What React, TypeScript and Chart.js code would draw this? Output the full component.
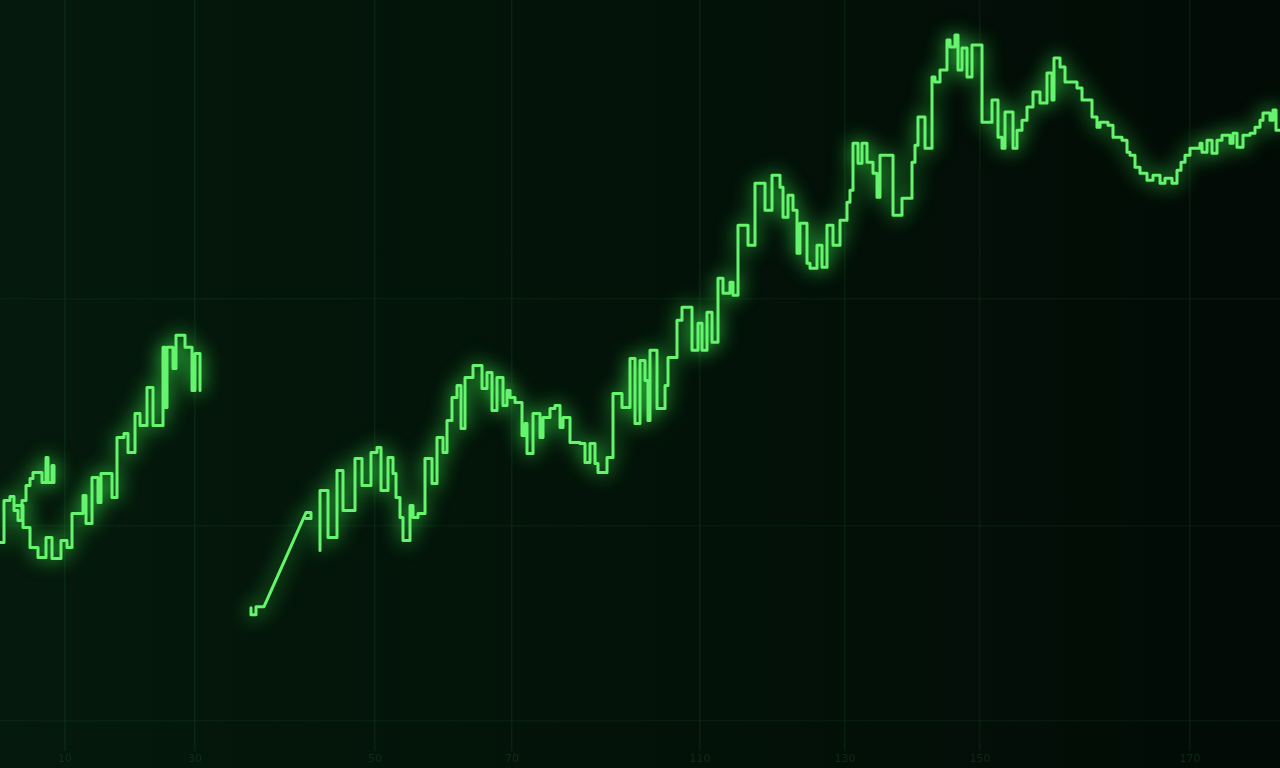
import React, { useEffect, useRef } from "react";
import { Chart, registerables } from "chart.js";

Chart.register(...registerables);

// Segment 1: short upper-left stepped trace
const seg1X = [0, 0.8, 2, 2.8, 3.6, 4.4, 5.2, 6, 6.6, 8.4, 9.2, 9.6, 10.4, 10.8];
const seg1Y = [41.6, 50, 50.8, 48, 46, 50, 53, 54.4, 55.6, 53.6, 58.6, 53.6, 57, 53.6];

// Segment 2: lower-left stepped trace rising to the first break
const seg2X = [3.2, 4.6, 6, 7.6, 9.2, 10.4, 12.2, 13.4, 14.4, 16.6, 17.2, 18.4, 19.6, 20.2, 22.4, 23.4, 24.8, 25.6, 27, 28, 29.4, 30.6, 32.6, 33, 33.4, 34.6, 35.2, 37, 38.4, 39, 40];
const seg2Y = [49, 44.6, 40.6, 38.6, 42.6, 38.4, 42, 40.6, 47.4, 51, 45.4, 54.6, 49.6, 55.4, 50.6, 62.6, 63.4, 59.6, 67.4, 65, 72.6, 65, 80.6, 68.6, 80.6, 76.4, 83, 80.6, 72, 79.4, 72];

// Segment 3: straight connecting piece after the gap
const seg3X = [50.2, 50.2, 51.2, 51.2, 52.8, 61.2, 62.2, 62.2, 61.2];
const seg3Y = [28.6, 27.2, 27.2, 28.8, 28.8, 47.6, 47.6, 46.4, 46.4];

// Segment 4: main stepped trace
const seg4X = [64, 64, 65.6, 67.4, 68.6, 71, 72.4, 74.2, 75.4, 76.2, 77.6, 78.6, 79.2, 80, 80.6, 82, 82.6, 83.6, 85, 86.4, 87.4, 88.6, 89.4, 90.4, 91.4, 92.2, 93, 94.6, 96.4, 97.4, 98.4, 99.4, 100.6, 101.4, 102, 103, 104.4, 105, 105.4, 106.6, 108, 108.6, 110, 111, 112, 112.6, 114, 116, 117, 118, 119, 119.6, 121.4, 122.6, 124.4, 126, 127, 128, 129, 129.6, 130, 131.4, 133, 133.6, 135.4, 136.4, 138.4, 139.6, 140.4, 141.4, 142.4, 143.6, 144.6, 146, 146.6, 147.6, 149.6, 151, 153, 154.4, 156, 156.6, 157.6, 158.6, 159.4, 160, 161.4, 162, 163.4, 164.4, 165.4, 166.6, 168, 169.4, 170, 170.6, 171.6, 172.4, 173.4, 174.6, 175.4, 176, 178.6, 180.4, 182.4, 183, 183.6, 185, 186.4, 187, 188, 189.4, 190, 191, 191.6, 192.4, 193.4, 194.4, 196.4, 198.4, 199.6, 200.4, 201, 202.6, 203.4, 204.4, 205.4, 206.6, 208, 209.4, 210.4, 210.8, 212, 213, 215.4, 216.4, 218.4, 219.4, 220, 221.6, 222.6, 224.4, 225.4, 226, 227, 228, 229.4, 230.6, 232, 233, 234.4, 235.4, 236.2, 237, 238, 240, 240.4, 241.4, 242.4, 243.4, 244.4, 246, 246.6, 247.4, 248.6, 250, 251, 252, 252.6, 254, 254.6, 255.2, 256];
const seg4Y = [40, 52, 42.6, 56, 48, 58.4, 53, 59.6, 60.6, 52, 58.6, 55.4, 50.6, 46.6, 42, 49, 46.6, 47.4, 58.4, 53.4, 62.6, 59.6, 66, 70.6, 73, 64.4, 74.6, 77, 72.4, 75.6, 68, 74.6, 69, 72, 70.6, 69.6, 63, 65.4, 59.4, 67.4, 62.6, 66.6, 68.4, 69, 64.6, 66.6, 61.6, 61.4, 57.6, 61.4, 57.4, 55.6, 58.6, 71.4, 68.6, 78.4, 65.4, 78, 74, 66, 80, 68.4, 73, 78.6, 86, 88.6, 80, 85.4, 80, 87.6, 81.6, 94.4, 91.4, 93.6, 91, 105, 101, 113.4, 108, 115, 112.6, 106.6, 111, 108, 99.4, 105.4, 97.4, 96.4, 101, 96.6, 105, 101, 106, 109.6, 112, 121.4, 117.4, 121.4, 117.6, 115.4, 110.6, 119, 107, 110.4, 117.6, 121, 126.6, 120.4, 134.6, 133.6, 136, 142, 140.6, 143, 136, 140.4, 134.6, 141, 125.6, 130, 122.6, 120.4, 127.6, 120.4, 124, 126, 128.6, 131.6, 129.4, 135.4, 130, 138.4, 136.6, 133.6, 132.4, 130, 126.6, 124.6, 125.6, 125, 122.6, 122, 119.6, 119, 116.6, 115.4, 114, 115, 113.4, 114.4, 113.4, 116, 117.6, 119, 120.4, 121.4, 119.6, 122, 119.4, 122, 123, 121.4, 123.4, 120.6, 123, 123.4, 124.6, 126, 127.4, 126, 128, 124, 124];

// Axis ticks (faint background grid and labels)
const xTickValues = [13, 39, 75, 102.4, 140, 169, 196, 238];
const xTickLabels = ["10", "30", "50", "70", "110", "130", "150", "170"];
const yTickValues = [6, 45, 90.4];

const toPoints = (xs: number[], ys: number[]) => xs.map((x, i) => ({ x, y: ys[i] }));

const glowPlugin = {
  id: "glow",
  beforeDatasetDraw(chart: any) {
    const ctx = chart.ctx;
    ctx.save();
    ctx.shadowColor = "rgba(60, 255, 80, 1)";
    ctx.shadowBlur = 20;
  },
  afterDatasetDraw(chart: any) {
    chart.ctx.restore();
  },
};

export default function App() {
  const canvasRef = useRef<HTMLCanvasElement | null>(null);

  useEffect(() => {
    const canvas = canvasRef.current;
    if (!canvas) return;
    const lineStyle = {
      borderColor: "#66f46f",
      borderWidth: 3,
      pointRadius: 0,
      borderJoinStyle: "round" as const,
      borderCapStyle: "round" as const,
      fill: false,
      tension: 0,
    };
    const chart = new Chart(canvas, {
      type: "line",
      data: {
        datasets: [
          { ...lineStyle, data: toPoints(seg1X, seg1Y), stepped: true },
          { ...lineStyle, data: toPoints(seg2X, seg2Y), stepped: true },
          { ...lineStyle, data: toPoints(seg3X, seg3Y), stepped: false },
          { ...lineStyle, data: toPoints(seg4X, seg4Y), stepped: true },
        ],
      },
      options: {
        animation: false,
        responsive: false,
        layout: { padding: 0 },
        plugins: { legend: { display: false }, tooltip: { enabled: false } },
        scales: {
          x: {
            type: "linear",
            min: 0,
            max: 256,
            border: { display: false },
            grid: { color: "rgba(40, 110, 60, 0.16)", lineWidth: 1.5, drawTicks: false },
            afterBuildTicks: (axis: any) => {
              axis.ticks = xTickValues.map((v) => ({ value: v }));
            },
            ticks: {
              color: "rgba(35, 80, 45, 0.4)",
              padding: 2,
              font: { family: "DejaVu Sans", size: 11 },
              callback: (value: any) => {
                const i = xTickValues.indexOf(Number(value));
                return i >= 0 ? xTickLabels[i] : "";
              },
            },
          },
          y: {
            type: "linear",
            min: 0,
            max: 150,
            border: { display: false },
            grid: { color: "rgba(40, 110, 60, 0.13)", lineWidth: 1.5, drawTicks: false },
            afterBuildTicks: (axis: any) => {
              axis.ticks = yTickValues.map((v) => ({ value: v }));
            },
            ticks: { display: false },
          },
        },
      },
      plugins: [glowPlugin],
    });
    return () => chart.destroy();
  }, []);

  return (
    <div
      style={{
        position: "fixed",
        left: 0,
        top: 0,
        width: 1280,
        height: 768,
        background: "linear-gradient(90deg, #05190c 0%, #031309 45%, #020b06 100%)",
      }}
    >
      <canvas ref={canvasRef} width={1280} height={768} style={{ display: "block" }} />
    </div>
  );
}
